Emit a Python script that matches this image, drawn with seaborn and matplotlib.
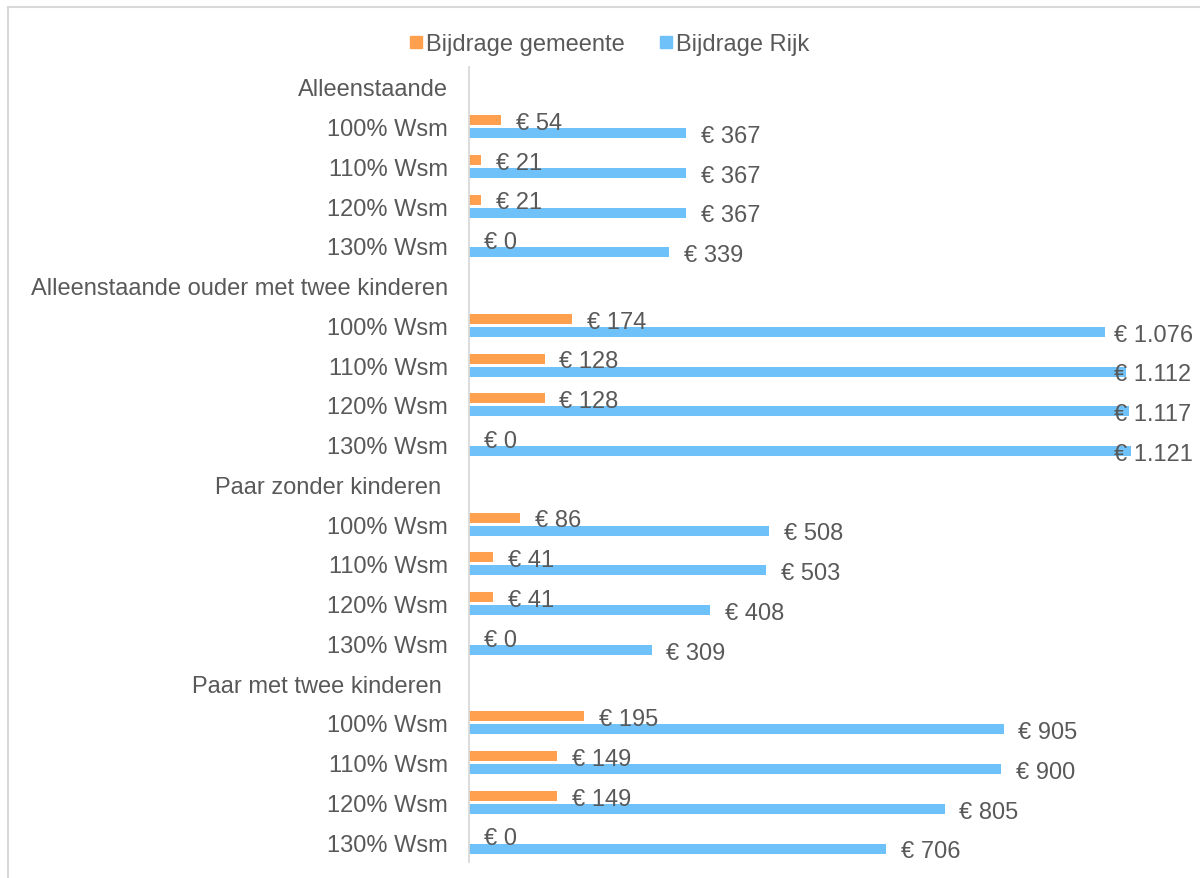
import matplotlib
matplotlib.use("Agg")
import matplotlib.pyplot as plt
import seaborn as sns
import pandas as pd
from matplotlib.lines import Line2D

# ---- data ----
groups = ["Alleenstaande", "Alleenstaande ouder met twee kinderen",
          "Paar zonder kinderen ", "Paar met twee kinderen "]
levels = ["100% Wsm", "110% Wsm", "120% Wsm", "130% Wsm"]
gemeente = [[54, 21, 21, 0],
            [174, 128, 128, 0],
            [86, 41, 41, 0],
            [195, 149, 149, 0]]
rijk = [[367, 367, 367, 339],
        [1076, 1112, 1117, 1121],
        [508, 503, 408, 309],
        [905, 900, 805, 706]]
series = ["Bijdrage gemeente", "Bijdrage Rijk"]
colors = ["#FFA04F", "#6EC2F9"]

# ---- build table ----
order, ticklabels, rows = [], [], []
k = 0
for gi, g in enumerate(groups):
    order.append(f"r{k}"); ticklabels.append(g); k += 1
    for li, lv in enumerate(levels):
        rid = f"r{k}"
        order.append(rid); ticklabels.append(lv); k += 1
        rows.append({"row": rid, "serie": series[0], "value": gemeente[gi][li]})
        rows.append({"row": rid, "serie": series[1], "value": rijk[gi][li]})
df = pd.DataFrame(rows)

sns.set_theme(style="white")
plt.rcParams["font.family"] = ["Liberation Sans", "DejaVu Sans"]
TXT = "#595959"

W, H = 1200, 879
fig = plt.figure(figsize=(W / 100, H / 100), dpi=100)
ax_left = 469
ax_top, ax_bot = 68, 863
ax = fig.add_axes([ax_left / W, 1 - ax_bot / H, 709 / W, (ax_bot - ax_top) / H])

sns.barplot(data=df, y="row", x="value", hue="serie", order=order,
            hue_order=series, palette=colors, orient="h", ax=ax,
            width=0.66, gap=0.24, saturation=1, errorbar=None,
            linewidth=0, legend=False)

ax.set_xlim(0, 1200)
ax.set_ylim(len(order) - 0.5, -0.5)
ax.set_yticks(range(len(order)))
ax.set_yticklabels(ticklabels, fontsize=17, color=TXT)
ax.tick_params(axis="y", length=0, pad=15)
ax.set_xticks([])
ax.set_xlabel("")
ax.set_ylabel("")
for s in ["top", "right", "bottom"]:
    ax.spines[s].set_visible(False)
ax.spines["left"].set_color("#D9D9D9")
ax.spines["left"].set_linewidth(1.3)

# value labels
def fmt(v):
    return "€ " + f"{v:,}".replace(",", ".")

for c in ax.containers:
    for bar in c:
        w = bar.get_width()
        if pd.isna(w):
            continue
        yc = bar.get_y() + bar.get_height() / 2
        xl = min(w + 25, 1091)
        ax.annotate(fmt(int(round(w))), (xl, yc), xytext=(0, -2),
                    textcoords="offset points", fontsize=17, color=TXT,
                    va="center", ha="left", annotation_clip=False)

# legend
handles = [Line2D([0], [0], marker="s", linestyle="none", markersize=9,
                  markerfacecolor=c, markeredgecolor=c) for c in colors]
fig.legend(handles, series, loc="center", bbox_to_anchor=(609 / W, 1 - 45 / H),
           ncol=2, frameon=False, fontsize=17, labelcolor=TXT,
           handlelength=0.6, handletextpad=0.15, columnspacing=1.42)

# outer chart frame (cropped at right and bottom)
fig.add_artist(Line2D([7.5 / W, 1], [1 - 7.5 / H, 1 - 7.5 / H],
                      transform=fig.transFigure, color="#D9D9D9", linewidth=1.5))
fig.add_artist(Line2D([7.5 / W, 7.5 / W], [0, 1 - 7.5 / H],
                      transform=fig.transFigure, color="#D9D9D9", linewidth=1.5))

fig.savefig("out.png", dpi=100, facecolor="white")
